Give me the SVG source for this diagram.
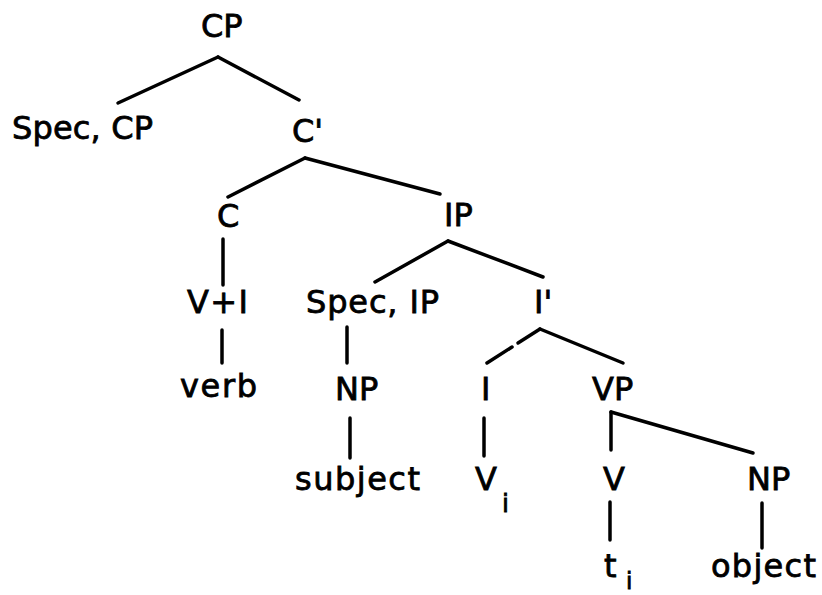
<svg xmlns="http://www.w3.org/2000/svg" width="822" height="595" viewBox="0 0 822 595">
<style>
  .lbl { font-family: "DejaVu Sans", "Liberation Sans", sans-serif; font-size: 32px; fill: #000; stroke: #000; stroke-width: 0.8; }
  .sub { font-family: "DejaVu Sans", "Liberation Sans", sans-serif; font-size: 25px; fill: #000; stroke: #000; stroke-width: 0.8; }
  .edge { stroke: #000; stroke-width: 3.5; stroke-linecap: round; fill: none; }
</style>
<rect width="822" height="595" fill="#fff"/>
<g id="connectors">
  <line class="edge" x1="218" y1="57" x2="118" y2="103"/>
  <line class="edge" x1="218" y1="57" x2="299" y2="100"/>
  <line class="edge" x1="305" y1="158" x2="228" y2="197"/>
  <line class="edge" x1="305" y1="158" x2="440" y2="194"/>
  <line class="edge" x1="223" y1="239" x2="223" y2="285"/>
  <line class="edge" x1="448" y1="241" x2="375" y2="282"/>
  <line class="edge" x1="448" y1="241" x2="543" y2="277"/>
  <line class="edge" x1="222" y1="330" x2="222" y2="363"/>
  <line class="edge" x1="347" y1="327" x2="347" y2="363"/>
  <line class="edge" x1="540" y1="329" x2="518" y2="343"/>
  <line class="edge" x1="512" y1="347" x2="487" y2="363"/>
  <line class="edge" x1="540" y1="329" x2="623" y2="363"/>
  <line class="edge" x1="350" y1="418" x2="350" y2="458"/>
  <line class="edge" x1="484" y1="418" x2="484" y2="456"/>
  <line class="edge" x1="611" y1="412" x2="611" y2="450"/>
  <line class="edge" x1="611" y1="412" x2="753" y2="453"/>
  <line class="edge" x1="610" y1="502" x2="610" y2="540"/>
  <line class="edge" x1="762" y1="503" x2="762" y2="548"/>
</g>
<g id="n-CP"><text class="lbl" x="201" y="37">CP</text></g>
<g id="n-SpecCP"><text class="lbl" x="12" y="139" textLength="141" lengthAdjust="spacing">Spec, CP</text></g>
<g id="n-Cbar"><text class="lbl" x="292" y="142">C'</text></g>
<g id="n-C"><text class="lbl" x="217" y="227">C</text></g>
<g id="n-IP"><text class="lbl" x="444" y="226">IP</text></g>
<g id="n-VI"><text class="lbl" x="187" y="313" textLength="61" lengthAdjust="spacing">V+I</text></g>
<g id="n-SpecIP"><text class="lbl" x="306" y="313" textLength="133" lengthAdjust="spacing">Spec, IP</text></g>
<g id="n-Ibar"><text class="lbl" x="534" y="313">I'</text></g>
<g id="n-verb"><text class="lbl" x="180" y="397" textLength="77" lengthAdjust="spacing">verb</text></g>
<g id="n-NP1"><text class="lbl" x="335" y="400">NP</text></g>
<g id="n-I"><text class="lbl" x="481" y="400">I</text></g>
<g id="n-VP"><text class="lbl" x="592" y="400">VP</text></g>
<g id="n-subject"><text class="lbl" x="295" y="490" textLength="125" lengthAdjust="spacing">subject</text></g>
<g id="n-Vi"><text class="lbl" x="475" y="490">V</text><text class="sub" x="502" y="512">i</text></g>
<g id="n-V"><text class="lbl" x="603" y="490">V</text></g>
<g id="n-NP2"><text class="lbl" x="747" y="490">NP</text></g>
<g id="n-ti"><text class="lbl" x="604" y="577">t</text><text class="sub" x="626" y="589" style="font-size:23px">i</text></g>
<g id="n-object"><text class="lbl" x="711" y="577" textLength="105" lengthAdjust="spacing">object</text></g>
</svg>
